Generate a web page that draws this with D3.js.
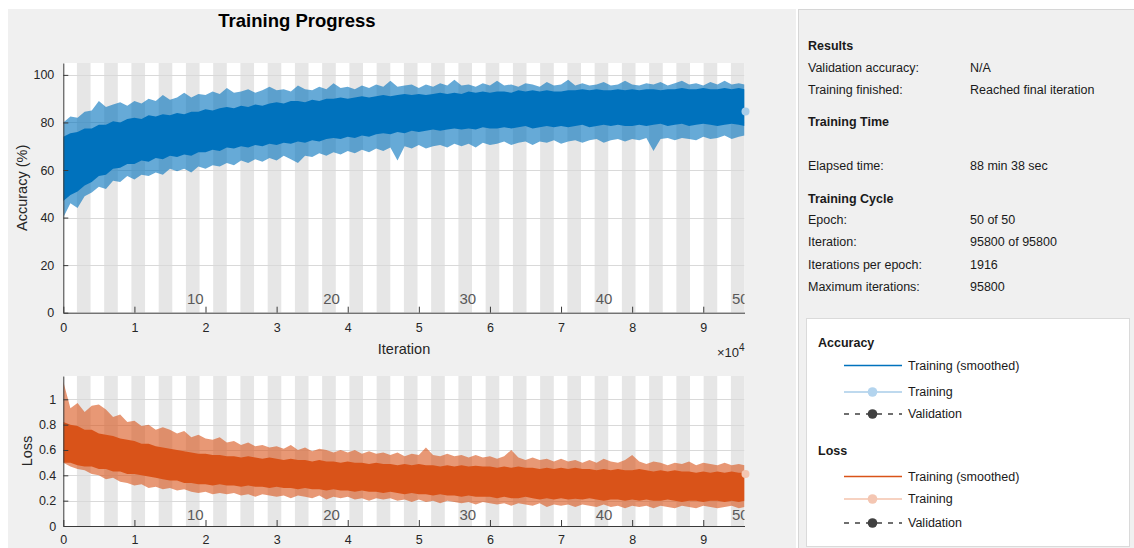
<!DOCTYPE html>
<html>
<head>
<meta charset="utf-8">
<script src="https://cdn.jsdelivr.net/npm/d3@7"></script>
<style>
  html, body { margin: 0; padding: 0; background: #ffffff; overflow: hidden; }
  svg { display: block; font-family: "Liberation Sans", Arial, Helvetica, sans-serif; }
</style>
</head>
<body>
<svg id="fig" width="1134" height="548"></svg>
<script>
// ---- Training run summary ----
const maxIterations = 95800;
const iterationsPerEpoch = 1916;
const numEpochs = 50;
const epochLabels = [10, 20, 30, 40, 50];
const xTickValues = [0, 10000, 20000, 30000, 40000, 50000, 60000, 70000, 80000, 90000];
const accTicks = [0, 20, 40, 60, 80, 100];
const lossTicks = [0, 0.2, 0.4, 0.6, 0.8, 1];

// Iterations at which the per-window envelopes below were taken (every 1000 iterations, plus the last one)
const sampleIter = d3.range(0, 95001, 1000).concat([maxIterations]);

// Accuracy (%): envelope of the raw per-iteration training accuracy
const accRawHi = [80, 82.5, 82, 84.5, 85, 89, 86.5, 87.5, 88.5, 87,
  89, 88, 90, 89, 91.5, 89.5, 90.5, 92.5, 90.5, 92,
  91.5, 93, 92, 94.5, 92.5, 93, 94, 92.5, 93.5, 95,
  93.5, 94, 93, 95.5, 94, 93.5, 95, 94, 96.5, 94.5,
  95, 94, 95.5, 94.5, 96, 95, 97.5, 95, 95.5, 96,
  94.5, 96, 95, 96.5, 95.5, 98, 95.5, 96, 95, 96.5,
  95.5, 97.5, 95.5, 96, 95, 96.5, 96, 95, 97, 95.5,
  96, 98, 95.5, 96.5, 95.5, 96, 97, 95.5, 96, 97.5,
  96, 95.5, 96.5, 96, 97, 95.5, 96.5, 97.5, 96, 96.5,
  95.5, 97, 96, 97.5, 96, 96.5, 96];
const accRawLo = [40, 46, 44, 49, 50.5, 53, 52, 55.5, 55, 57.5,
  56, 58, 57.5, 59, 58, 60.5, 59.5, 60.5, 59, 61.5,
  60.5, 62, 61.5, 63, 62, 64, 63, 64.5, 63.5, 65,
  64, 66, 64.5, 63, 66, 65.5, 67, 66, 67.5, 66.5,
  68, 67, 68.5, 67.5, 69, 68, 69.5, 64, 70, 69,
  70.5, 69, 70, 70.5, 69.5, 71, 70, 71, 69.5, 71.5,
  70.5, 71, 72, 70.5, 71.5, 72, 70.5, 72, 71.5, 72.5,
  71, 72, 72.5, 71.5, 72.5, 73, 71.5, 72.5, 73, 72,
  73, 72.5, 73.5, 68, 73, 73.5, 72.5, 73.5, 73, 72.5,
  74, 73, 73.5, 74.5, 73, 74, 74.5];
// Accuracy (%): envelope of the smoothed training accuracy
const accSmoothHi = [74, 75.5, 76, 77.5, 77.5, 79, 79, 80.5, 80, 81.5,
  82, 81.5, 83, 82.5, 83.5, 83, 84, 83.5, 84.5, 84.5,
  85.5, 85, 86, 86.5, 86, 87, 86.5, 87.5, 87, 88,
  88.5, 88, 89, 89, 88.5, 89.5, 89, 90, 90, 90.5,
  90, 90.5, 91, 90.5, 91, 91.5, 91, 91.5, 92, 91.5,
  92, 91.5, 92, 92.5, 92, 92.5, 92, 93, 92.5, 93,
  92.5, 93, 93, 92.5, 93.5, 93, 93.5, 93, 93.5, 93,
  93, 93.5, 93.5, 94, 93.5, 94, 93.5, 93.5, 94, 93.5,
  94, 93.5, 94, 94, 93.5, 94, 94, 94.5, 94, 94,
  94.5, 94, 94, 94.5, 94, 94.5, 94];
const accSmoothLo = [47, 49.5, 51, 53.5, 55, 57.5, 58, 60.5, 61, 62.5,
  62.5, 64, 63.5, 65, 64.5, 66, 65.5, 66.5, 66, 67.5,
  67.5, 68.5, 68, 69.5, 69, 70, 69.5, 70.5, 70, 71,
  70.5, 71.5, 71, 72, 71.5, 72.5, 72, 73, 73.5, 73,
  74, 73.5, 74.5, 74, 75, 75.5, 75, 76, 75.5, 76.5,
  76, 76.5, 77, 76.5, 77, 77.5, 77, 77.5, 77, 78,
  77.5, 77.5, 78, 77.5, 78, 78.5, 77.5, 78, 78.5, 78,
  78.5, 78, 78.5, 79, 78, 78.5, 79, 78.5, 79, 78.5,
  78.5, 79, 78.5, 79, 79.5, 78.5, 79, 79.5, 78.5, 79,
  79.5, 79, 78.5, 79, 79.5, 79, 78.5];
const accFinal = 84.6;

// Loss: envelope of the raw per-iteration training loss
const lossRawHi = [1.14, 0.93, 0.97, 0.9, 0.95, 0.96, 0.92, 0.86, 0.88, 0.82,
  0.83, 0.79, 0.8, 0.76, 0.78, 0.76, 0.73, 0.75, 0.7, 0.72,
  0.69, 0.68, 0.7, 0.66, 0.67, 0.64, 0.66, 0.63, 0.64, 0.62,
  0.63, 0.61, 0.64, 0.6, 0.62, 0.59, 0.61, 0.6, 0.58, 0.6,
  0.58, 0.6, 0.57, 0.59, 0.57, 0.58, 0.56, 0.58, 0.55, 0.57,
  0.56, 0.62, 0.56, 0.55, 0.57, 0.55, 0.56, 0.54, 0.56, 0.54,
  0.55, 0.53, 0.55, 0.6, 0.54, 0.52, 0.54, 0.52, 0.53, 0.51,
  0.53, 0.51, 0.52, 0.5, 0.52, 0.5, 0.53, 0.51, 0.5, 0.52,
  0.56, 0.51, 0.49, 0.51, 0.5, 0.48, 0.5, 0.49, 0.51, 0.48,
  0.5, 0.49, 0.48, 0.5, 0.48, 0.49, 0.48];
const lossRawLo = [0.5, 0.47, 0.45, 0.44, 0.41, 0.4, 0.37, 0.38, 0.35, 0.34,
  0.32, 0.33, 0.3, 0.31, 0.29, 0.3, 0.28, 0.29, 0.27, 0.26,
  0.27, 0.25, 0.26, 0.25, 0.26, 0.24, 0.25, 0.23, 0.25, 0.24,
  0.23, 0.24, 0.22, 0.24, 0.23, 0.22, 0.24, 0.21, 0.23, 0.22,
  0.23, 0.21, 0.22, 0.2, 0.22, 0.21, 0.22, 0.2, 0.21, 0.19,
  0.21, 0.19, 0.2, 0.18, 0.2, 0.19, 0.18, 0.19, 0.17, 0.19,
  0.18, 0.17, 0.18, 0.16, 0.18, 0.17, 0.16, 0.18, 0.15, 0.17,
  0.16, 0.17, 0.15, 0.17, 0.16, 0.15, 0.17, 0.15, 0.16, 0.14,
  0.16, 0.15, 0.16, 0.14, 0.16, 0.15, 0.14, 0.16, 0.15, 0.14,
  0.16, 0.15, 0.14, 0.15, 0.16, 0.14, 0.15];
// Loss: envelope of the smoothed training loss
const lossSmoothHi = [0.82, 0.8, 0.79, 0.76, 0.76, 0.73, 0.72, 0.71, 0.69, 0.68,
  0.67, 0.65, 0.65, 0.63, 0.62, 0.61, 0.6, 0.59, 0.58, 0.57,
  0.57, 0.56, 0.56, 0.55, 0.55, 0.54, 0.55, 0.54, 0.53, 0.54,
  0.53, 0.52, 0.53, 0.52, 0.52, 0.51, 0.52, 0.51, 0.51, 0.5,
  0.51, 0.5, 0.5, 0.49, 0.5, 0.49, 0.49, 0.48, 0.49, 0.48,
  0.49, 0.48, 0.48, 0.47, 0.48, 0.47, 0.48, 0.47, 0.475, 0.47,
  0.47, 0.46, 0.47, 0.46, 0.47, 0.46, 0.46, 0.45, 0.46, 0.45,
  0.46, 0.45, 0.46, 0.45, 0.45, 0.44, 0.45, 0.44, 0.45, 0.44,
  0.44, 0.45, 0.44, 0.43, 0.44, 0.43, 0.44, 0.43, 0.43, 0.42,
  0.43, 0.42, 0.43, 0.42, 0.43, 0.42, 0.42];
const lossSmoothLo = [0.5, 0.5, 0.48, 0.47, 0.47, 0.45, 0.45, 0.43, 0.43, 0.41,
  0.41, 0.4, 0.39, 0.38, 0.37, 0.36, 0.36, 0.34, 0.34, 0.33,
  0.33, 0.32, 0.33, 0.32, 0.32, 0.31, 0.32, 0.31, 0.31, 0.3,
  0.31, 0.3, 0.3, 0.29, 0.3, 0.29, 0.29, 0.28, 0.29, 0.28,
  0.28, 0.27, 0.28, 0.27, 0.27, 0.26, 0.27, 0.26, 0.25, 0.26,
  0.25, 0.25, 0.24, 0.25, 0.24, 0.24, 0.23, 0.24, 0.23, 0.23,
  0.23, 0.22, 0.23, 0.22, 0.22, 0.23, 0.22, 0.21, 0.22, 0.21,
  0.22, 0.21, 0.215, 0.21, 0.22, 0.21, 0.2, 0.21, 0.21, 0.2,
  0.21, 0.2, 0.21, 0.2, 0.2, 0.21, 0.2, 0.19, 0.2, 0.2,
  0.19, 0.2, 0.2, 0.19, 0.2, 0.19, 0.2];
const lossFinal = 0.41;

// Info panel rows
const resultRows = [["Validation accuracy:", "N/A"], ["Training finished:", "Reached final iteration"]];
const timeRows = [["Elapsed time:", "88 min 38 sec"]];
const cycleRows = [["Epoch:", "50 of 50"], ["Iteration:", "95800 of 95800"],
  ["Iterations per epoch:", "1916"], ["Maximum iterations:", "95800"]];

// ---- Drawing ----
const svg = d3.select("#fig");
const textColor = "#262626";

// figure panels
svg.append("rect").attr("x", 8).attr("y", 9).attr("width", 788).attr("height", 539).attr("fill", "#f0f0f0");
svg.append("rect").attr("x", 798.5).attr("y", 9.5).attr("width", 345).attr("height", 545)
  .attr("fill", "#f0f0f0").attr("stroke", "#d6d6d6");

const plotLeft = 63.3, plotRight = 744.5;
const x = d3.scaleLinear().domain([0, maxIterations]).range([plotLeft, plotRight]);
const epochs = d3.range(1, numEpochs + 1);

function drawPanel(cfg) {
  const y = d3.scaleLinear().domain([0, cfg.yMax]).range([cfg.bottom, cfg.top]);
  const g = svg.append("g");
  const clipId = "clip-" + cfg.id;
  svg.append("defs").append("clipPath").attr("id", clipId)
    .append("rect").attr("x", plotLeft).attr("y", cfg.top)
    .attr("width", plotRight - plotLeft).attr("height", cfg.bottom - cfg.top);

  const inner = g.append("g").attr("clip-path", `url(#${clipId})`);
  inner.append("rect").attr("x", plotLeft).attr("y", cfg.top)
    .attr("width", plotRight - plotLeft).attr("height", cfg.bottom - cfg.top).attr("fill", "#ffffff");

  // alternating epoch bands
  inner.selectAll("rect.epoch").data(epochs.filter(e => e % 2 === 0)).join("rect")
    .attr("class", "epoch")
    .attr("x", e => x((e - 1) * iterationsPerEpoch))
    .attr("width", e => x(e * iterationsPerEpoch) - x((e - 1) * iterationsPerEpoch))
    .attr("y", cfg.top).attr("height", cfg.bottom - cfg.top)
    .attr("fill", "#e6e6e6");

  // horizontal grid
  inner.selectAll("line.grid").data(cfg.ticks.filter(t => t > 0)).join("line")
    .attr("class", "grid")
    .attr("x1", plotLeft).attr("x2", plotRight)
    .attr("y1", d => Math.round(y(d)) + 0.5).attr("y2", d => Math.round(y(d)) + 0.5)
    .attr("stroke", "#d9d9d9").attr("stroke-width", 1);

  // epoch numbers
  inner.selectAll("text.ep").data(epochLabels).join("text")
    .attr("class", "ep")
    .attr("x", e => x((e - 1) * iterationsPerEpoch) + 1)
    .attr("y", cfg.epochLabelY)
    .attr("font-size", 15).attr("fill", "#595959")
    .text(d => d);

  // raw training envelope
  const rawArea = d3.area()
    .x((d, i) => x(sampleIter[i]))
    .y0((d, i) => y(cfg.rawLo[i]))
    .y1((d, i) => y(cfg.rawHi[i]));
  inner.append("path").datum(cfg.rawHi).attr("d", rawArea)
    .attr("fill", cfg.color).attr("fill-opacity", cfg.rawOpacity);

  // smoothed training band
  const smArea = d3.area()
    .x((d, i) => x(sampleIter[i]))
    .y0((d, i) => y(cfg.smLo[i]))
    .y1((d, i) => y(cfg.smHi[i]));
  inner.append("path").datum(cfg.smHi).attr("d", smArea).attr("fill", cfg.color);

  // final training value marker
  g.append("circle").attr("cx", x(maxIterations) + 1).attr("cy", y(cfg.final)).attr("r", 4)
    .attr("fill", cfg.markerColor);

  // axes
  const yAxis = d3.axisLeft(y).tickValues(cfg.ticks).tickFormat(cfg.tickFormat)
    .tickSizeInner(-5).tickSizeOuter(0).tickPadding(cfg.yPad);
  const xAxis = d3.axisBottom(x).tickValues(xTickValues).tickFormat(d => d / 10000)
    .tickSizeInner(-6).tickSizeOuter(0).tickPadding(cfg.xPad);
  [g.append("g").attr("transform", `translate(${plotLeft},0)`).call(yAxis),
   g.append("g").attr("transform", `translate(0,${cfg.bottom})`).call(xAxis)].forEach(a => {
    a.attr("font-family", null).attr("font-size", 12.5);
    a.selectAll("path.domain").attr("stroke", "#3a3a3a");
    a.selectAll(".tick line").attr("stroke", "#3a3a3a");
    a.selectAll(".tick text").attr("fill", textColor);
  });

  // y label
  svg.append("text")
    .attr("transform", `translate(${cfg.yLabelX},${(cfg.top + cfg.bottom) / 2}) rotate(-90)`)
    .attr("text-anchor", "middle").attr("dominant-baseline", "central")
    .attr("font-size", 14.5).attr("fill", textColor).text(cfg.yLabel);
}

drawPanel({
  id: "acc", top: 63, bottom: 312.7, yMax: 105, ticks: accTicks, tickFormat: d => d,
  rawHi: accRawHi, rawLo: accRawLo, smHi: accSmoothHi, smLo: accSmoothLo,
  color: "#0072BD", rawOpacity: 0.6, final: accFinal, markerColor: "#a9cde9",
  yLabel: "Accuracy (%)", yLabelX: 22, epochLabelY: 304, xPad: 10, yPad: 9
});
drawPanel({
  id: "loss", top: 376, bottom: 526, yMax: 1.184, ticks: lossTicks, tickFormat: d => d,
  rawHi: lossRawHi, rawLo: lossRawLo, smHi: lossSmoothHi, smLo: lossSmoothLo,
  color: "#D95319", rawOpacity: 0.6, final: lossFinal, markerColor: "#f4c6b2",
  yLabel: "Loss", yLabelX: 27, epochLabelY: 520, xPad: 9, yPad: 7
});

// title and x-axis label
svg.append("text").attr("x", 297).attr("y", 27).attr("text-anchor", "middle")
  .attr("font-size", 18.5).attr("font-weight", "bold").attr("fill", "#000").text("Training Progress");
svg.append("text").attr("x", 404).attr("y", 349).attr("text-anchor", "middle")
  .attr("dominant-baseline", "central").attr("font-size", 14.5).attr("fill", textColor).text("Iteration");
const expo = svg.append("text").attr("x", plotRight).attr("y", 357).attr("text-anchor", "end")
  .attr("font-size", 13).attr("fill", textColor);
expo.append("tspan").text("\u00d710");
expo.append("tspan").attr("dy", -6).attr("font-size", 10).text("4");

// ---- Info panel ----
const labelX = 808, valueX = 970;
const info = svg.append("g").attr("font-size", 12.5).attr("fill", "#1a1a1a");
function heading(t, yc) {
  info.append("text").attr("x", labelX).attr("y", yc).attr("dominant-baseline", "central")
    .attr("font-weight", "bold").text(t);
}
function rows(list, ys) {
  list.forEach((r, i) => {
    info.append("text").attr("x", labelX).attr("y", ys[i]).attr("dominant-baseline", "central").text(r[0]);
    info.append("text").attr("x", valueX).attr("y", ys[i]).attr("dominant-baseline", "central").text(r[1]);
  });
}
heading("Results", 45.5);
rows(resultRows, [68, 89.5]);
heading("Training Time", 121.5);
rows(timeRows, [165.5]);
heading("Training Cycle", 199);
rows(cycleRows, [220, 242, 264.5, 286.5]);

// ---- Legend ----
svg.append("rect").attr("x", 806.5).attr("y", 318.5).attr("width", 323).attr("height", 228)
  .attr("fill", "#ffffff").attr("stroke", "#dadada");
const leg = svg.append("g").attr("font-size", 12.5).attr("fill", "#1a1a1a");
const lx0 = 844, lx1 = 902, lmx = 872.5, ltx = 908;
function legendBlock(title, ty, rowsY, smoothColor, lightLine, lightMarker) {
  leg.append("text").attr("x", 818).attr("y", ty).attr("dominant-baseline", "central")
    .attr("font-weight", "bold").text(title);
  // smoothed
  leg.append("line").attr("x1", lx0).attr("x2", lx1).attr("y1", rowsY[0]).attr("y2", rowsY[0])
    .attr("stroke", smoothColor).attr("stroke-width", 1.6);
  leg.append("text").attr("x", ltx).attr("y", rowsY[0]).attr("dominant-baseline", "central").text("Training (smoothed)");
  // raw
  leg.append("line").attr("x1", lx0).attr("x2", lx1).attr("y1", rowsY[1]).attr("y2", rowsY[1])
    .attr("stroke", lightLine).attr("stroke-width", 1.6);
  leg.append("circle").attr("cx", lmx).attr("cy", rowsY[1]).attr("r", 4.8).attr("fill", lightMarker);
  leg.append("text").attr("x", ltx).attr("y", rowsY[1]).attr("dominant-baseline", "central").text("Training");
  // validation
  leg.append("line").attr("x1", lx0).attr("x2", lx1).attr("y1", rowsY[2]).attr("y2", rowsY[2])
    .attr("stroke", "#404040").attr("stroke-width", 1.3).attr("stroke-dasharray", "5,6");
  leg.append("circle").attr("cx", lmx).attr("cy", rowsY[2]).attr("r", 4.8).attr("fill", "#404040");
  leg.append("text").attr("x", ltx).attr("y", rowsY[2]).attr("dominant-baseline", "central").text("Validation");
}
legendBlock("Accuracy", 342.5, [365.5, 392, 414], "#0072BD", "#a9cde9", "#b3d4ee");
legendBlock("Loss", 450.5, [476.5, 499, 523], "#D95319", "#f4c3ad", "#f4c6b2");
</script>
</body>
</html>
